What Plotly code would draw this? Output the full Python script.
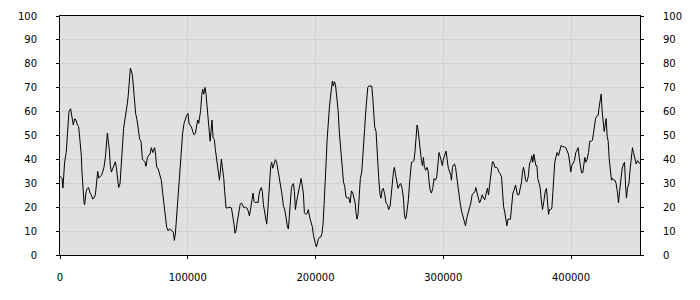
import plotly.graph_objects as go

# x values in thousands
x_k = [0, 1.6, 2.3, 3.1, 3.6, 4.9, 5.7, 6.3, 7.0, 8.3, 9.4, 10.4, 11.5, 12.5, 13.6, 14.6, 15.7, 16.7, 17.2, 18.0,
       18.8, 19.3, 20.4, 21.4, 22.4, 23.5, 24.5, 25.6, 26.6, 27.7, 28.7, 29.5, 30.3, 31.3, 32.4, 33.4, 34.4, 35.5,
       36.5, 37.1, 37.8, 38.6, 39.4, 40.2, 41.2, 42.3, 43.3, 44.1, 44.9, 45.9, 47.0, 48.0, 48.8, 49.8, 50.9, 51.9,
       52.7, 53.5, 54.3, 55.1, 55.8, 56.6, 57.4, 58.2, 59.2, 60.3, 61.3, 62.4, 63.4, 64.5, 65.5, 66.5, 67.3, 68.4,
       69.4, 70.5, 71.5, 72.6, 73.3, 74.1, 74.9, 75.7,
       76.7, 78.3, 79.3, 80.4, 81.4, 82.5, 83.5, 84.6, 85.6, 86.7, 87.7, 88.7, 89.5, 90.3, 91.4, 92.4, 93.4, 94.2,
       95.0, 96.0, 97.1, 98.1, 99.2, 100.2, 101.0, 101.8, 102.8, 103.9, 104.9, 106.0, 107.0, 107.8, 108.6, 109.4,
       110.1, 110.9, 111.7, 112.5, 113.5, 114.3, 115.4, 116.4, 117.5, 118.2, 119.0, 119.8, 120.8, 121.6, 122.7,
       123.7, 124.8, 125.5, 126.3, 127.1, 128.2, 128.9, 130.0, 131.0, 132.1, 133.1, 134.2, 135.2, 136.2, 137.0,
       137.8, 138.9, 139.9, 141.0, 142.0, 143.0, 144.1, 145.1, 146.2, 147.2, 148.3, 149.3, 150.3, 151.1, 151.9, 152.9,
       153.5, 155.0, 155.8, 156.6, 157.6, 158.4, 159.2, 160.3, 161.0, 161.8, 162.6, 163.4, 164.2, 165.0, 165.7,
       166.5, 167.6, 168.6, 169.6, 170.7, 171.7, 172.8, 173.8, 174.9, 175.9, 177.0, 178.0, 178.8, 179.6, 180.3,
       181.1, 181.9, 182.7, 183.5, 184.3, 185.0, 185.8, 186.9, 187.9, 188.7, 189.5, 190.5, 191.3, 192.4, 193.4,
       194.4, 195.5, 196.5, 197.6, 198.4, 199.1, 199.9, 200.7, 201.5, 202.3, 203.3, 204.1, 205.1, 205.9, 206.7,
       207.5, 208.3, 209.1, 209.8, 210.9, 211.7, 212.5, 213.2, 214.0, 214.8, 215.6, 216.6, 217.7, 218.7, 219.8,
       220.8, 221.9, 222.9, 223.9, 225.0, 226.0, 227.1, 228.1, 229.2,
       231.0, 231.7, 232.5, 233.3, 234.1, 235.1, 236.2, 237.0, 237.7, 238.5, 239.3, 240.1, 240.9, 241.7, 243.0,
       244.0, 244.8, 245.6, 246.3, 247.4, 248.4, 249.5, 250.5, 251.3, 252.1, 253.1, 254.2, 255.2, 256.3, 257.3,
       258.4, 259.4, 260.2, 261.0, 261.7, 262.5, 263.6, 264.6, 265.7, 266.7, 267.8, 268.8, 269.6, 270.4, 271.1,
       271.9, 272.7, 273.5, 274.3, 275.1, 276.1, 277.1, 277.9, 278.7, 279.5, 280.3, 281.1, 281.8, 282.9, 283.7,
       284.5, 285.2, 286.3, 287.3, 288.1, 288.9, 289.7, 290.7, 291.8, 292.8, 293.9, 294.9, 295.9, 296.7, 297.8,
       298.5, 299.3, 300.1, 301.2, 302.2, 303.0, 304.0, 305.1, 305.9,
       306.4, 307.2, 308.0, 308.8, 309.6, 310.4, 311.1, 312.2, 313.2, 314.3, 315.3, 316.4, 317.4, 318.5, 319.5,
       320.5, 321.6, 322.6, 323.7, 324.7, 325.5, 326.3, 327.3, 328.4, 329.4, 330.5, 331.5, 332.5, 333.6, 334.6,
       335.4, 336.2, 337.0, 337.8, 338.5, 339.3, 340.4, 341.4, 342.5, 343.5, 344.6, 345.6, 346.4, 347.2, 348.2,
       349.0, 349.8, 350.6, 351.6, 352.6, 353.4, 354.5, 355.5, 356.6, 357.3, 358.1, 359.2, 360.2, 361.3, 362.0,
       362.8, 363.6, 364.4, 365.4, 366.5, 367.5, 368.6, 369.3, 370.1, 370.9, 371.7, 372.5, 373.3, 374.0, 375.1,
       375.9, 376.7, 377.7, 378.7, 379.8, 380.8, 381.6, 382.4, 383.2,
       384.2, 385.0, 385.8, 386.5, 387.3, 388.1, 389.1, 390.2, 391.2, 392.3, 393.3, 394.6, 395.9, 397.0, 398.0,
       399.1, 399.8, 400.6, 401.7, 402.7, 403.8, 404.8, 405.6, 406.4, 407.4, 408.2, 409.2, 410.0, 410.8, 411.6,
       412.6, 413.7, 414.7, 415.8, 416.8, 417.6, 418.4, 419.2, 420.2, 421.3, 422.0, 422.8, 423.6, 424.4, 425.2,
       426.0, 426.7, 427.5, 428.3, 429.1, 429.9, 430.9, 431.7, 432.5, 433.5, 434.3, 435.3, 436.4, 437.2, 438.0,
       439.0, 440.0, 441.1, 441.9, 442.7, 443.4, 444.2, 445.3, 446.3, 447.4, 448.1, 448.9, 450.0, 451.0, 452.1,
       453.1, 454.1]

values = [33, 32, 28, 34.7, 38.8, 42.9, 48, 52.4, 60, 61.2, 57.8, 54.4, 57, 56.5, 54.4, 53.7, 47.6, 41.5, 34.7, 26.5,
          21.8, 21.1, 26.5, 27.9, 28.2, 25.9, 25.2, 23.4, 23.8, 25.2, 31.3, 35, 32.2, 32.7, 33.3, 34.7, 36.7, 40.8,
          46.9, 51, 47.6, 44.2, 37.4, 34.7, 36, 37.4, 39, 36.7, 31.3, 28.2, 29.9, 38.8, 48.3, 53, 57, 59.9,
          63.3, 67.3, 73.5, 78.2, 77.1, 75.5, 70.7, 64.6, 59.2, 56.5, 52.4, 48.3, 47.6, 40.1, 39.5, 38.8, 37.1, 40.8,
          41.8, 42.2, 44.9, 42.9, 44.2, 44.9, 41.5, 36.7,
          36.3, 33.3, 31.3, 25.9, 21.1, 15.6, 11.6, 10.2, 10.9, 10.5, 10.2, 9.5, 6.1, 8.8, 17, 21.1, 29.3, 38.8,
          44.2, 51, 55.1, 57.1, 58.5, 59.2, 55.1, 54.4, 53.7, 51.7, 50.3, 51, 55.1, 56.5, 55.1, 58.5,
          60.5, 66.7, 69.4, 67.3, 70.1, 67.3, 59.2, 52.4, 47.6, 51.7, 56.5, 49, 48.3, 44.2, 39.5,
          35.4, 31.3, 34.7, 40.1, 36.7, 32, 26.5, 19.7, 19.7, 20, 20, 19.7, 17, 12.9, 9.1,
          10.2, 14.3, 17.7, 21.1, 21.8, 20.4, 19.7, 20, 19.7, 18.6, 16.3, 19.7, 24.5, 25.9, 22.4, 21.8,
          22.2, 21.8, 25.2, 27.2, 28.2, 26.5, 21.1, 17, 15, 12.9, 18.4, 25.2, 33.3, 37.4, 38.8,
          36.3, 38.1, 39.9, 38.8, 35.4, 33.3, 29.3, 25.2, 20.4, 19, 15.6, 11.6, 10.9, 17, 23.8,
          27.9, 29.3, 29.9, 26.5, 19, 21.8, 23.8, 27.2, 29.9, 32, 29.3, 25.9, 17.7, 17, 17.3,
          19, 15.6, 13.6, 11.6, 8.2, 6.1, 4.8, 3.4, 5.4, 6.8, 7.5, 7.5, 9.1, 12.9, 21.1,
          27.9, 38.8, 48.3, 55.1, 61.9, 66, 70.1, 72.8, 70.7, 72.5, 71.4, 66, 60.5, 51, 42.9,
          35.4, 30.6, 28.6, 24.1, 23.8, 24.1, 21.8, 26.8, 25.9,
          21.8, 17.7, 15, 17, 25.2, 32, 34.7, 40.1, 46.9, 53, 59.9, 66, 70.1, 70.7, 70.7,
          70.7, 66, 59.2, 53.7, 51.7, 40.1, 32, 25.2, 23.8, 27.2, 27.9, 25.2, 21.8, 21.1, 19,
          20.4, 26.5, 32.7, 34.7, 36.7, 34, 29.3, 27.9, 29.3, 29.9, 27.9, 23.8, 17, 15, 16.3,
          19, 23.1, 29.3, 36.7, 38.8, 39, 39.5, 43.5, 50.3, 54.4, 52.4, 47.6, 43.5, 39.5, 37.4,
          40.8, 36.7, 35.4, 36.7, 35.4, 30.6, 27.2, 25.9, 27.9, 32, 31.3, 32.7, 40.1, 42.9, 40.8,
          39.5, 37.4, 40.1, 41.5, 43.5, 40.1, 36.3, 34.7, 33.3,
          31.3, 36.7, 37.7, 38.1, 36.7, 33.3, 29.3, 24.5, 21.8, 18.4, 16.3, 14.3, 12.2, 15.6, 17.7,
          19, 21.8, 25.2, 25.9, 26.5, 28.2, 26.5, 23.8, 21.8, 23.1, 25.2, 23.8, 23.1, 25.9, 27.9,
          25.2, 29.3, 33.6, 37.4, 39, 38.8, 36.7, 36.7, 36.3, 34.7, 34, 32.7, 25.2, 20.4, 17.7,
          14.3, 12.2, 15, 15, 15, 19.7, 25.9, 27.2, 29.3, 27.2, 25.2, 25.2, 27.2, 30.6, 34.7,
          36.7, 34.7, 31.3, 30.6, 32.7, 38.1, 39.5, 41.5, 38.8, 42.2, 40.1, 37.4, 37.4, 32, 29.9,
          27.9, 23.1, 19, 22.4, 26.5, 27.9, 22.4, 17, 19,
          19, 19.7, 28.6, 34.7, 38.8, 40.8, 42.9, 41.5, 43.5, 45.9, 45.3, 45.3, 44.9, 43.5, 42.2,
          38.1, 34.7, 37.4, 38.8, 39.5, 42.9, 44.2, 44.9, 40.8, 36.7, 34.4, 34.4, 38.8, 40.8, 38.8,
          40.1, 42.9, 47.6, 47.6, 48, 51, 54.4, 57.1, 58.1, 58.5, 61.9, 66, 67.3, 59.9, 56.5,
          51.7, 54.4, 57.1, 49.7, 47.6, 40.1, 36, 31.3, 32, 31.3, 31.3, 29.9, 25.9, 21.8, 26.5,
          32, 36, 38.1, 38.8, 29.3, 23.8, 27.9, 29.9, 36, 42.9, 44.9, 42.9, 39.5, 38.1, 39.5,
          38.8, 38.1]

x_vals = [v * 1000 for v in x_k]
x_ticks = [0, 100000, 200000, 300000, 400000]
y_ticks = [0, 10, 20, 30, 40, 50, 60, 70, 80, 90, 100]

FONT = dict(family="DejaVu Sans", size=10, color="#000000")
GRID = "#d0d0d0"

fig = go.Figure()
fig.add_trace(go.Scatter(x=x_vals, y=values, mode="lines",
                         line=dict(color="#000000", width=1), showlegend=False,
                         hoverinfo="x+y"))
# empty trace so that the right-hand axis is drawn
fig.add_trace(go.Scatter(x=[], y=[], yaxis="y2", mode="lines", showlegend=False,
                         hoverinfo="skip"))

fig.update_layout(
    width=700, height=300,
    margin=dict(l=60, r=60, t=10, b=45),
    paper_bgcolor="#ffffff",
    plot_bgcolor="#e0e0e0",
    font=FONT,
    showlegend=False,
    xaxis=dict(range=[0, 454000], tickvals=x_ticks, ticktext=[str(t) for t in x_ticks],
               showgrid=True, gridcolor=GRID, gridwidth=1, zeroline=False,
               showline=True, linecolor="#000000", linewidth=1, mirror=True,
               ticks="outside", ticklen=3, tickcolor="#000000", tickfont=FONT,
               ticklabelstandoff=10),
    yaxis=dict(range=[0, 100], tickvals=y_ticks, showgrid=True, gridcolor=GRID, gridwidth=1,
               zeroline=False, showline=True, linecolor="#000000", linewidth=1, mirror="ticks",
               ticks="outside", ticklen=3, tickcolor="#000000", tickfont=FONT,
               ticklabelstandoff=17),
    yaxis2=dict(range=[0, 100], tickvals=y_ticks, overlaying="y", side="right", anchor="x",
                showgrid=False, zeroline=False, showline=True, linecolor="#000000", linewidth=1,
                ticks="outside", ticklen=3, tickcolor="#000000", tickfont=FONT,
                ticklabelstandoff=17),
)

fig.write_html("out.html")
